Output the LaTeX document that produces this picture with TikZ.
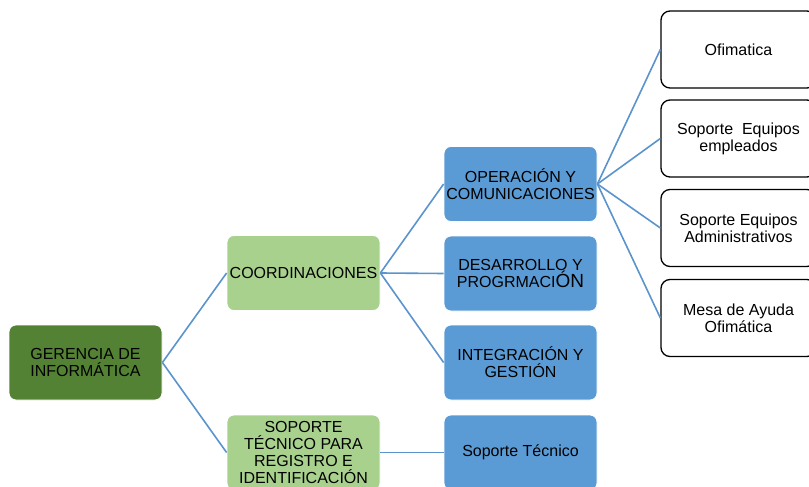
\documentclass[tikz,border=0pt]{standalone}
\usepackage{fontspec}
\setmainfont{Liberation Sans}
\definecolor{dkgreen}{HTML}{548235}
\definecolor{ltgreen}{HTML}{A9D18E}
\definecolor{boxblue}{HTML}{5B9BD5}
\definecolor{lineblue}{HTML}{5B93CC}
\tikzset{
  base/.style={minimum width=153pt, minimum height=75pt, inner sep=1pt, align=center,
    font=\fontsize{16}{16.8}\selectfont, rounded corners=7pt},
  boxdark/.style={base, fill=dkgreen, draw=white, line width=0.8pt},
  boxlight/.style={base, fill=ltgreen, draw=white, line width=0.8pt},
  boxblue/.style={base, fill=boxblue, draw=white, line width=0.8pt},
  boxwhite/.style={base, minimum width=155pt, minimum height=77pt, fill=white, draw=black, line width=1.3pt, rounded corners=9pt},
  link/.style={draw=lineblue, line width=1.6pt}
}
\begin{document}
\begin{tikzpicture}[x=1pt,y=-1pt]
\useasboundingbox (0,0) rectangle (809,487);
\clip (0,0) rectangle (809,487);
\node[boxdark]  (ger)  at (85.5,362.5) {GERENCIA DE\\INFORMÁTICA};
\node[boxlight] (coord) at (303.5,273) {COORDINACIONES};
\node[boxlight] (sop)  at (303.5,452.5) {SOPORTE\\TÉCNICO PARA\\REGISTRO E\\IDENTIFICACIÓN};
\node[boxblue]  (op)   at (520.5,184) {OPERACIÓN Y\\COMUNICACIONES};
\node[boxblue]  (des)  at (520.5,273.5) {DESARROLLO Y\\PROGRMACI{\fontsize{19}{16.8}\selectfont ÓN}};
\node[boxblue]  (int)  at (520.5,362.5) {INTEGRACIÓN Y\\GESTIÓN};
\node[boxblue]  (st)   at (520.5,452.5) {Soporte Técnico};
\node[boxwhite] (ofi)  at (738.5,49.5) {Ofimatica};
\node[boxwhite] (emp)  at (738.5,138.5) {Soporte\ \ Equipos\\empleados};
\node[boxwhite] (adm)  at (738.5,228) {Soporte Equipos\\Administrativos};
\node[boxwhite] (mesa) at (738.5,318) {Mesa de Ayuda\\Ofimática};
\draw[link] (ger.east) -- (coord.west);
\draw[link] (ger.east) -- (sop.west);
\draw[link] (coord.east) -- (op.west);
\draw[link] (coord.east) -- (des.west);
\draw[link] (coord.east) -- (int.west);
\draw[link] (sop.east) -- (st.west);
\draw[link] (op.east) -- (ofi.west);
\draw[link] (op.east) -- (emp.west);
\draw[link] (op.east) -- (adm.west);
\draw[link] (op.east) -- (mesa.west);
\end{tikzpicture}
\end{document}
